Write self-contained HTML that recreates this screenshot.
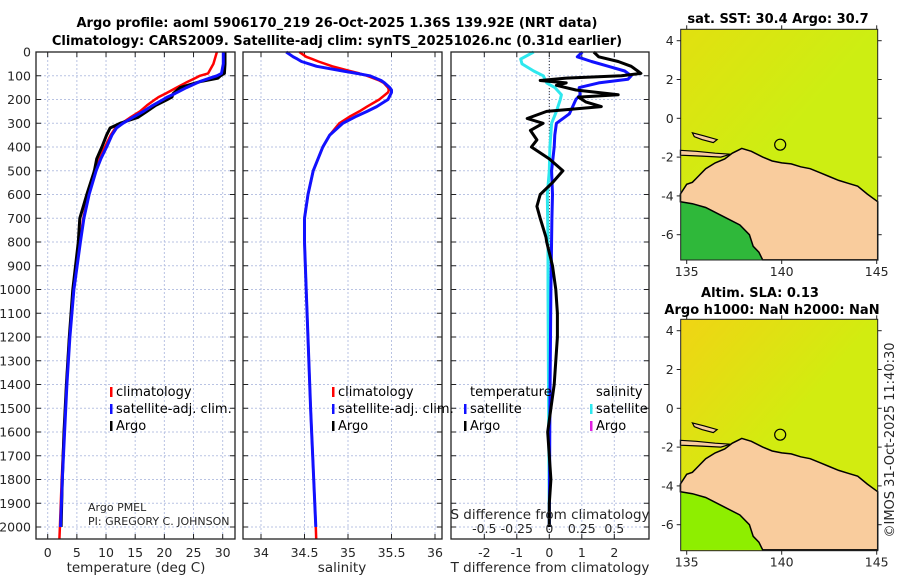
<!DOCTYPE html>
<html><head><meta charset="utf-8"><style>
body{margin:0;background:#fff}
svg{display:block;font-family:"DejaVu Sans","Liberation Sans",sans-serif}
.tk{font-size:12.5px;fill:#262626}
.tt{font-size:13px;font-weight:bold;fill:#000}
.lg{font-size:13px;fill:#000}
</style></head><body>
<svg id="c" width="900" height="580" viewBox="0 0 900 580">
<g id="g"></g>
</svg>
<script>
// depth grid for temperature series
const tempDepth=[0,50,90,100,110,125,150,175,190,200,225,250,275,300,320,350,400,450,500,600,700,800,1000,1200,1400,1600,1800,2000];
const tempArgo=[30.4,30.4,30.3,29.6,29.2,26.1,22.7,21.5,21.3,20.5,18.5,17,15.5,12.4,10.7,10.1,9.3,8.4,8,6.7,5.5,5.25,4.3,3.7,3.2,2.8,2.5,2.3];
const tempClim=[29,28.4,27.5,26.1,25.3,24,22.1,20.2,19,18.4,17,15.8,14.2,12.7,11.6,10.8,9.8,8.9,8.1,7,6.1,5.5,4.4,3.7,3.2,2.8,2.4,2.1];
const tempSat=[30.1,30.1,29.8,29.0,27.8,26,23.8,21.8,20.5,19.8,18,16.4,14.6,12.9,11.8,11,10.1,9.1,8.3,7.1,6.2,5.6,4.5,3.8,3.3,2.9,2.5,2.2];
const salDepth=[0,20,30,40,60,80,90,100,120,130,150,160,170,200,230,250,270,300,350,400,500,600,700,800,1000,1500,2000];
const salClim=[34.44,34.52,34.59,34.66,34.82,35.02,35.13,35.22,35.36,35.41,35.46,35.47,35.46,35.36,35.22,35.13,35.03,34.9,34.79,34.71,34.6,34.54,34.5,34.5,34.52,34.57,34.63];
const salSat=[34.29,34.37,34.42,34.465,34.64,34.94,35.1,35.25,35.38,35.42,35.48,35.5,35.5,35.46,35.33,35.22,35.1,34.94,34.79,34.71,34.6,34.54,34.5,34.5,34.52,34.57,34.63];
const sDiffDepth=[0,30,50,80,100,130,150,180,200,250,300,400,500,600,800,1000,1500,2000];
const sDiffSat=[-0.12,-0.22,-0.21,-0.12,-0.046,-0.02,0.043,0.093,0.085,0.055,0.018,0.005,0,-0.015,-0.01,-0.01,-0.005,0];
const tDiffSatDepth=[0,20,40,60,80,100,115,130,150,180,200,230,260,300,350,400,500,600,700,1000,1500,2000];
const tDiffSat=[1.02,0.86,1.3,1.82,2.32,2.52,2.42,1.52,0.92,0.95,0.82,0.72,0.62,0.22,0.17,0.15,0.07,0.1,0.08,0.05,0.02,0];
const tDiffArgoDepth=[0,20,40,60,80,90,100,110,120,130,140,160,180,190,210,230,250,280,300,330,370,400,450,500,550,600,650,700,780,800,900,1000,1100,1200,1300,1400,1500,1600,1700,1800,1900,2000];
const tDiffArgo=[1.37,1.52,2.12,2.52,2.72,2.82,2.22,0.52,-0.28,0.52,0.22,0.82,2.12,0.9,1.12,1.6,-0.08,-0.68,-0.19,-0.58,-0.38,-0.55,0,0.42,0.1,-0.28,-0.38,-0.28,-0.1,-0.08,0.1,0.2,0.25,0.25,0.2,0.15,0.05,-0.05,0,0.05,0,0];
const depthTicks=[0,100,200,300,400,500,600,700,800,900,1000,1100,1200,1300,1400,1500,1600,1700,1800,1900,2000];
const tempTicks=[0,5,10,15,20,25,30];
const salTicks=[34,34.5,35,35.5,36];
const tDiffTicks=[-2,-1,0,1,2];
const sDiffTicks=[-0.5,-0.25,0,0.25,0.5];
const sDiffTickLabels=["-0.5","-0.25","0","0.25","0.5"];

const NS="http://www.w3.org/2000/svg";
const G=document.getElementById('g');
function mk(tag,at,parent){const e=document.createElementNS(NS,tag);for(const k in at)e.setAttribute(k,at[k]);(parent||G).appendChild(e);return e;}
const TOP=52,BOT=539;
const yD=d=>TOP+d*0.2375;
const P1={l:36,r:235,x:v=>47.7+v*5.833};
const P2={l:243,r:442,x:v=>261+(v-34)*87};
const P3={l:451,r:649,x:v=>549.3+v*32.5};
const sX=v=>549.3+v*130;

function frame(p,ticks,fx,name){
  const gg=mk('g',{});
  
  
  ticks.forEach(t=>{const x=fx(t);const l=mk('line',{x1:x,x2:x,y1:TOP,y2:BOT,stroke:'#b9c3e3','stroke-width':1,'stroke-dasharray':'2,2'},gg);});
  depthTicks.forEach(d=>{const y=yD(d);const l=mk('line',{x1:p.l,x2:p.r,y1:y,y2:y,stroke:'#b9c3e3','stroke-width':1,'stroke-dasharray':'2,2'},gg);
    mk('line',{x1:p.l,x2:p.l+5,y1:y,y2:y,stroke:'#222'},gg);mk('line',{x1:p.r-5,x2:p.r,y1:y,y2:y,stroke:'#222'},gg);});
  ticks.forEach(t=>{const x=fx(t);mk('line',{x1:x,x2:x,y1:BOT-5,y2:BOT,stroke:'#222'},gg);mk('line',{x1:x,x2:x,y1:TOP,y2:TOP+5,stroke:'#222'},gg);});
  return gg;
}
function axBox(p,name){const r=mk('rect',{x:p.l,y:TOP,width:p.r-p.l,height:BOT-TOP,fill:'none',stroke:'#222','stroke-width':1.3});}
function line(ds,vs,fx,col,w,name){
  const pts=ds.map((d,i)=>fx(vs[i]).toFixed(1)+','+yD(d).toFixed(1)).join(' ');
  const e=mk('polyline',{points:pts,fill:'none',stroke:col,'stroke-width':w,'stroke-linejoin':'round'});
  
}
function txt(x,y,s,cls,anchor,name){const t=mk('text',{x:x,y:y,class:cls,'text-anchor':anchor||'start'});t.textContent=s;return t;}

// panel 1
frame(P1,tempTicks,P1.x,'temperature-grid');
line(tempDepth.concat([2050]),tempClim.concat([2.0]),P1.x,'#f00',2.5,'temperature-climatology-line');
line(tempDepth,tempArgo,P1.x,'#000',3,'temperature-argo-line');
line(tempDepth,tempSat,P1.x,'#11f',3,'temperature-satellite-line');
axBox(P1,'temperature-axes');
depthTicks.forEach(d=>txt(31,yD(d)+4.5,String(d),'tk','end','depth-tick-label'));
tempTicks.forEach(t=>txt(P1.x(t),557,String(t),'tk','middle','temperature-tick-label'));
txt(136,572,'temperature (deg C)','tk','middle','temperature-axis-title').setAttribute('style','font-size:13.5px');
txt(88,511,'Argo PMEL','tk','start','argo-pmel-label').setAttribute('style','font-size:11px');
txt(88,525,'PI: GREGORY C. JOHNSON','tk','start','pi-label').setAttribute('style','font-size:11px');

// panel 2
frame(P2,salTicks,P2.x,'salinity-grid');
line(salDepth.concat([2050]),salClim.concat([34.635]),P2.x,'#f00',2.5,'salinity-climatology-line');
line(salDepth,salSat,P2.x,'#11f',3,'salinity-satellite-line');
axBox(P2,'salinity-axes');
salTicks.forEach(t=>txt(P2.x(t),557,String(t),'tk','middle','salinity-tick-label'));
txt(342,572,'salinity','tk','middle','salinity-axis-title').setAttribute('style','font-size:13.5px');

// panel 3
frame(P3,tDiffTicks,P3.x,'difference-grid');
mk('line',{x1:549.3,x2:549.3,y1:TOP,y2:BOT,stroke:'#333','stroke-width':1,'stroke-dasharray':'1,2'});
line(sDiffDepth,sDiffSat,sX,'#2ee8ee',3,'salinity-diff-satellite-line');
line(tDiffSatDepth,tDiffSat,P3.x,'#11f',3,'temperature-diff-satellite-line');
line(tDiffArgoDepth,tDiffArgo,P3.x,'#000',3,'temperature-diff-argo-line');
axBox(P3,'difference-axes');
tDiffTicks.forEach(t=>txt(P3.x(t),557,String(t),'tk','middle','t-diff-tick-label'));
sDiffTicks.forEach((t,i)=>txt(sX(t),533,sDiffTickLabels[i],'tk','middle','s-diff-tick-label'));
txt(550,519,'S difference from climatology','tk','middle','s-diff-axis-title').setAttribute('style','font-size:13.5px');
txt(550,572,'T difference from climatology','tk','middle','t-diff-axis-title').setAttribute('style','font-size:13.5px');

// legends
function leg(x,y,col,label,name){const r=mk('rect',{x:x,y:y-9,width:2.5,height:10,fill:col});txt(x+6,y,label,'lg','start',name);}
leg(110,396,'#f00','climatology','legend-climatology');
leg(110,413,'#11f','satellite-adj. clim.','legend-satellite-adj');
leg(110,430,'#000','Argo','legend-argo');
leg(332,396,'#f00','climatology','legend2-climatology');
leg(332,413,'#11f','satellite-adj. clim.','legend2-satellite-adj');
leg(332,430,'#000','Argo','legend2-argo');
txt(470,396,'temperature','lg','start','legend-temperature-heading');
txt(596,396,'salinity','lg','start','legend-salinity-heading');
leg(464,413,'#11f','satellite','legend-t-satellite');
leg(464,430,'#000','Argo','legend-t-argo');
leg(590,413,'#2ee8ee','satellite','legend-s-satellite');
leg(590,430,'#e020e0','Argo','legend-s-argo');

// titles
txt(337,27,'Argo profile: aoml 5906170_219 26-Oct-2025 1.36S 139.92E (NRT data)','tt','middle','main-title-line1');
txt(337,45,'Climatology: CARS2009. Satellite-adj clim: synTS_20251026.nc (0.31d earlier)','tt','middle','main-title-line2');

// maps
const lonTicks=[135,140,145],latTicks=[4,2,0,-2,-4,-6];
const land=[[134.67,-3.9],[135.0,-3.4],[135.3,-3.3],[135.6,-3.0],[136.0,-2.6],[136.5,-2.3],[137.0,-2.1],[137.4,-1.8],[137.9,-1.55],[138.4,-1.7],[139.0,-2.0],[139.5,-2.2],[140.0,-2.3],[140.5,-2.35],[141.0,-2.5],[141.5,-2.6],[142.0,-2.8],[142.5,-3.0],[143.0,-3.2],[143.5,-3.35],[144.0,-3.5],[144.5,-3.9],[145.05,-4.3],[145.05,-7.3],[139.0,-7.3],[138.8,-6.9],[138.5,-6.6],[138.3,-6.0],[137.8,-5.5],[137.0,-5.1],[136.0,-4.6],[135.3,-4.4],[134.67,-4.3]];
const south=[[134.67,-4.3],[135.3,-4.4],[136.0,-4.6],[137.0,-5.1],[137.8,-5.5],[138.3,-6.0],[138.5,-6.6],[138.8,-6.9],[139.0,-7.3],[134.67,-7.3]];
const isl1=[[135.3,-0.75],[135.9,-0.9],[136.6,-1.1],[136.4,-1.25],[135.8,-1.1],[135.4,-0.95]];
const isl2=[[134.67,-1.65],[135.5,-1.7],[136.5,-1.8],[137.3,-1.85],[136.8,-2.0],[135.8,-1.95],[134.67,-1.9]];
function map(top,bot,y0,ocean,shallow,name,grad){
  const L=680.7,R=877.7;
  const fx=lon=>686.7+(lon-135)*19, fy=lat=>y0-lat*19.4;
  const gg=mk('g',{});
  const id='gr'+top;
  const defs=mk('defs',{},gg);const lg=mk('linearGradient',{id:id,x1:0,y1:0,x2:1,y2:1},defs);
  mk('stop',{offset:0,'stop-color':grad},lg);mk('stop',{offset:0.5,'stop-color':ocean},lg);mk('stop',{offset:1,'stop-color':ocean},lg);
  mk('rect',{x:L,y:top,width:R-L,height:bot-top,fill:'url(#'+id+')'},gg);
  const P=a=>a.map(p=>fx(p[0]).toFixed(1)+','+fy(p[1]).toFixed(1)).join(' ');
  mk('polygon',{points:P(south),fill:shallow},gg);
  const lp=mk('polygon',{points:P(land),fill:'#f9cc9d',stroke:'#000','stroke-width':1.5},gg);
  mk('polygon',{points:P(isl1),fill:'#f9cc9d',stroke:'#000','stroke-width':1.2},gg);
  mk('polygon',{points:P(isl2),fill:'#f9cc9d',stroke:'#000','stroke-width':1.2},gg);
  const c=mk('circle',{cx:fx(139.92),cy:fy(-1.36),r:5.5,fill:'none',stroke:'#000','stroke-width':1.2},gg);
  mk('rect',{x:L,y:top,width:R-L,height:bot-top,fill:'none',stroke:'#222','stroke-width':1},gg);
  latTicks.forEach(t=>{const y=fy(t);mk('line',{x1:L-4,x2:L,y1:y,y2:y,stroke:'#222'},gg);mk('line',{x1:R,x2:R+4,y1:y,y2:y,stroke:'#222'},gg);txt(L-7,y+4.5,String(t),'tk','end','map-lat-tick-label');});
  lonTicks.forEach(t=>{const x=fx(t);mk('line',{x1:x,x2:x,y1:bot,y2:bot+4,stroke:'#222'},gg);mk('line',{x1:x,x2:x,y1:top-4,y2:top,stroke:'#222'},gg);txt(x,bot+16,String(t),'tk','middle','map-lon-tick-label');});
}
map(29.3,260,118.3,'#cdee12','#2fb83a','sst-map','#e2e010');
map(319.3,550.7,408.3,'#d2ec10','#8eee00','sla-map','#f0d414');
txt(778,23,'sat. SST: 30.4 Argo: 30.7','tt','middle','sst-map-title');
txt(760,297,'Altim. SLA: 0.13','tt','middle','sla-map-title-line1');
txt(772,314,'Argo h1000: NaN h2000: NaN','tt','middle','sla-map-title-line2');
const cr=txt(0,0,'©IMOS 31-Oct-2025 11:40:30','tk','middle','copyright-timestamp');
cr.setAttribute('transform','translate(894,440) rotate(-90)');cr.setAttribute('style','font-size:13px');
</script>
</body></html>
